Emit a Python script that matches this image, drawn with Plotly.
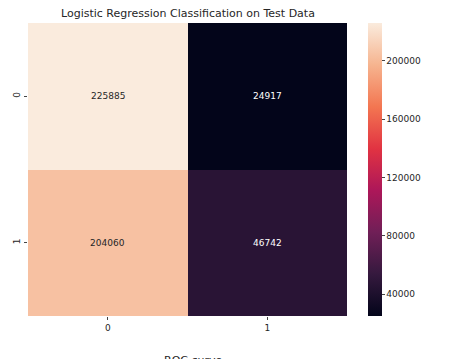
import plotly.graph_objects as go

# Data
x_labels = ["0", "1"]
y_labels = ["0", "1"]
row_0 = [225885, 24917]
row_1 = [204060, 46742]
cbar_ticks = [40000, 80000, 120000, 160000, 200000]
title_text = "Logistic Regression Classification on Test Data"
next_title = "ROC curve"

z = [row_0, row_1]

rocket = [
    [0.0, "#03051a"],
    [0.143, "#35193e"],
    [0.286, "#701f57"],
    [0.429, "#ad1759"],
    [0.571, "#e13342"],
    [0.714, "#f37651"],
    [0.857, "#f6b48f"],
    [1.0, "#faebdd"],
]

zmin = min(min(r) for r in z)
zmax = max(max(r) for r in z)

fig = go.Figure()
fig.add_trace(go.Heatmap(
    z=z, x=x_labels, y=y_labels,
    colorscale=rocket, zmin=zmin, zmax=zmax,
    xgap=0, ygap=0,
    showscale=True,
    colorbar=dict(
        x=1.0645, xanchor="left", xref="paper", xpad=0,
        y=0.5, yanchor="middle", len=1.0, lenmode="fraction", ypad=0,
        thickness=14, thicknessmode="pixels",
        outlinewidth=0,
        ticks="outside", ticklen=3, tickcolor="#444444",
        tickvals=cbar_ticks, ticktext=[str(v) for v in cbar_ticks],
        tickfont=dict(family="DejaVu Sans", size=9, color="#262626"),
    ),
    hoverinfo="skip",
))

# cell annotations
for i, row in enumerate(z):
    for j, v in enumerate(row):
        frac = (v - zmin) / (zmax - zmin)
        fig.add_annotation(
            x=x_labels[j], y=y_labels[i], text=str(v), showarrow=False,
            font=dict(family="DejaVu Sans", size=9,
                      color="#262626" if frac > 0.5 else "#ffffff"),
        )

fig.add_annotation(
    xref="paper", yref="paper", x=0.5, y=1.0, yshift=1,
    xanchor="center", yanchor="bottom", showarrow=False,
    text=title_text,
    font=dict(family="DejaVu Sans", size=11, color="#262626"),
)
fig.add_annotation(
    xref="paper", yref="paper", x=0.52, y=0.0, yshift=-36,
    xanchor="center", yanchor="top", showarrow=False,
    text=next_title,
    font=dict(family="DejaVu Sans", size=11, color="#262626"),
)

fig.update_layout(
    width=469, height=359,
    margin=dict(l=26, r=122, t=23, b=43, pad=0),
    paper_bgcolor="white", plot_bgcolor="white",
    xaxis=dict(
        type="category", showgrid=False, zeroline=False,
        ticks="outside", ticklen=3, tickcolor="#444444",
        tickfont=dict(family="DejaVu Sans", size=9, color="#262626"),
        showline=False,
    ),
    yaxis=dict(
        type="category", autorange="reversed", showgrid=False, zeroline=False,
        ticks="outside", ticklen=3, tickcolor="#444444", tickangle=-90,
        tickfont=dict(family="DejaVu Sans", size=9, color="#262626"),
        showline=False,
    ),
)

fig.write_html("out.html", config={"displayModeBar": False},
               post_script="document.body.style.margin='0';")
